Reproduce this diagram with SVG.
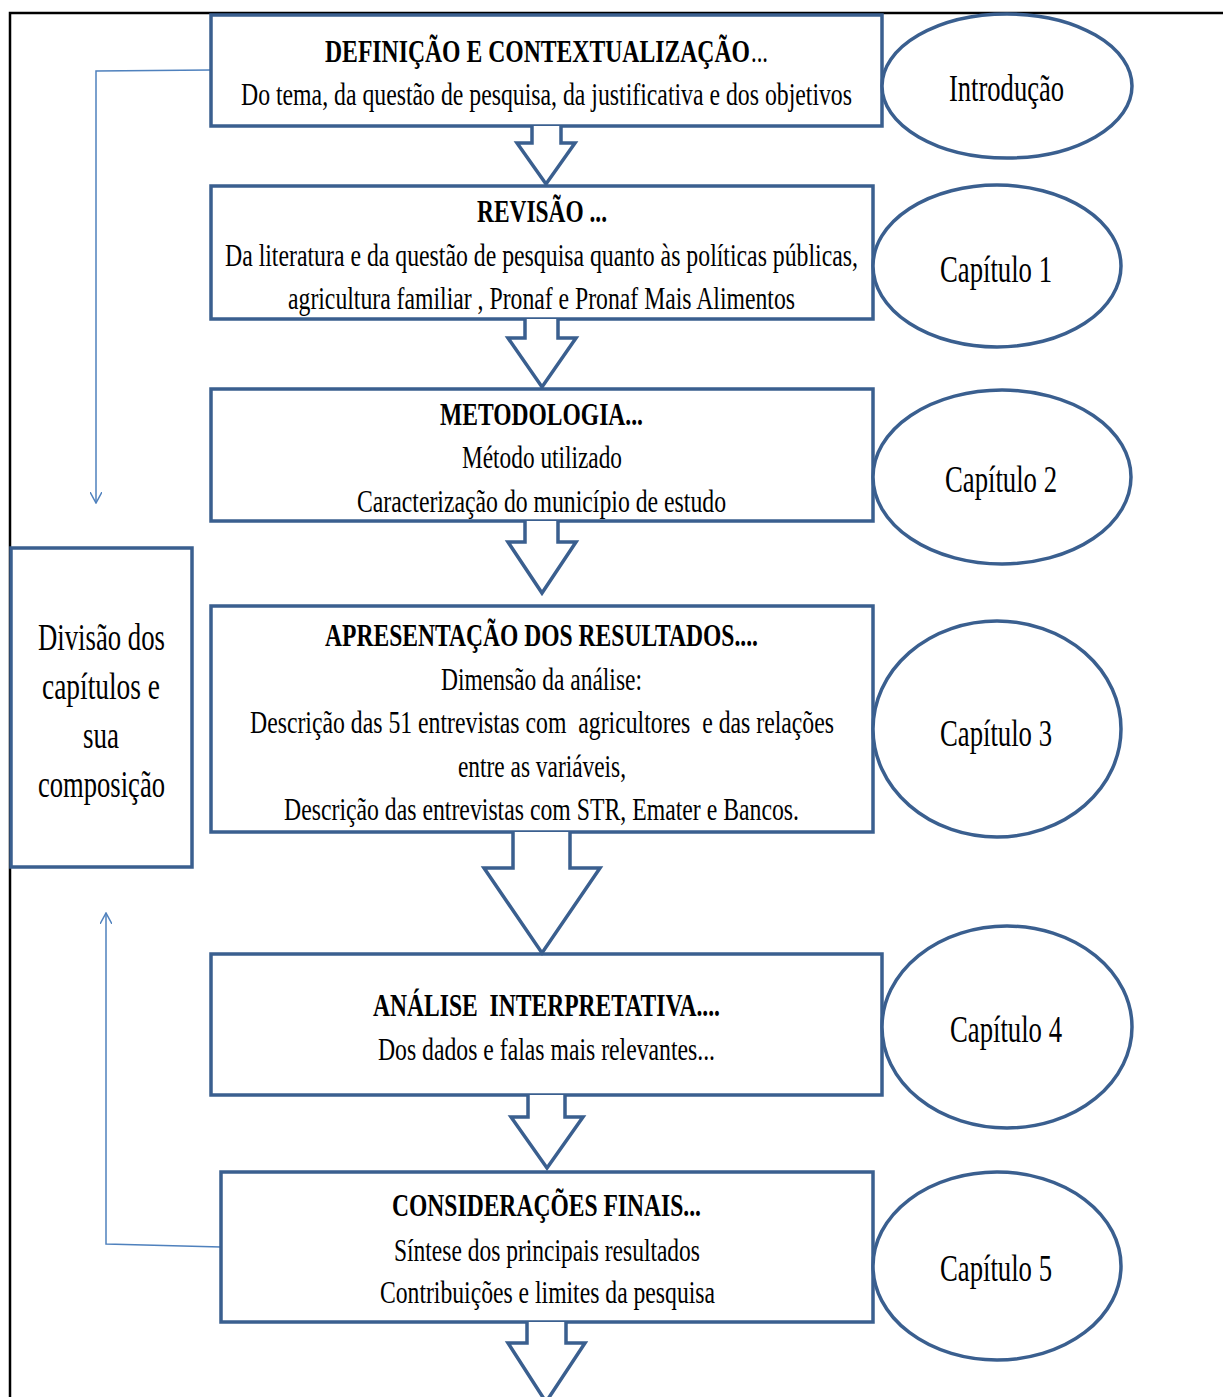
<svg xmlns="http://www.w3.org/2000/svg" width="1223" height="1397" viewBox="0 0 1223 1397">
<defs>
<style>
.box{fill:#fff;stroke:#3A5F8F;stroke-width:3.5}
.arr{fill:#fff;stroke:#3A5F8F;stroke-width:3.5;stroke-linejoin:miter}
.ell{fill:#fff;stroke:#3A5F8F;stroke-width:3.5}
.con{fill:none;stroke:#4F81BD;stroke-width:1.5}
.t{font-size:31px}
.b{font-size:31px;font-weight:bold}
.e{font-size:37px}
</style>
<marker id="ah" viewBox="0 0 12 12" refX="11" refY="6" markerWidth="12" markerHeight="12" markerUnits="userSpaceOnUse" orient="auto">
<path d="M0,0 L11,6 L0,12" fill="none" stroke="#4F81BD" stroke-width="1.5"/>
</marker>
</defs>
<rect width="1223" height="1397" fill="#fff"/>
<path d="M10,1397 V13 H1223" fill="none" stroke="#000" stroke-width="2.5"/>

<g id="connectors">
<path class="con" d="M211,70 L96,71 V503" marker-end="url(#ah)"/>
<path class="con" d="M221,1247 L106,1244 V913" marker-end="url(#ah)"/>
</g>

<g font-family="'Liberation Serif', 'Times New Roman', serif" fill="#000">
<g id="box1">
<rect class="box" x="211" y="15" width="671" height="111"/>
<text class="b" x="325" y="62" textLength="425" lengthAdjust="spacingAndGlyphs">DEFINIÇÃO E CONTEXTUALIZAÇÃO</text>
<text class="t" x="751" y="62" textLength="17" lengthAdjust="spacingAndGlyphs">...</text>
<text class="t" x="241" y="105" textLength="611" lengthAdjust="spacingAndGlyphs">Do tema, da questão de pesquisa, da justificativa e dos objetivos</text>
</g>
<g id="ell0">
<ellipse class="ell" cx="1007" cy="86" rx="125" ry="72"/>
<text class="e" x="949" y="101" textLength="115" lengthAdjust="spacingAndGlyphs">Introdução</text>
</g>

<g id="box2">
<rect class="box" x="211" y="186" width="662" height="133"/>
<text class="b" x="477" y="222" textLength="130" lengthAdjust="spacingAndGlyphs">REVISÃO ...</text>
<text class="t" x="225" y="266" textLength="633" lengthAdjust="spacingAndGlyphs">Da literatura e da questão de pesquisa quanto às políticas públicas,</text>
<text class="t" x="288" y="309" textLength="507" lengthAdjust="spacingAndGlyphs">agricultura familiar , Pronaf e Pronaf Mais Alimentos</text>
</g>
<g id="ell1">
<ellipse class="ell" cx="997" cy="266" rx="124" ry="81"/>
<text class="e" x="940" y="282" textLength="112" lengthAdjust="spacingAndGlyphs">Capítulo 1</text>
</g>

<g id="box3">
<rect class="box" x="211" y="389" width="662" height="132"/>
<text class="b" x="440" y="425" textLength="203" lengthAdjust="spacingAndGlyphs">METODOLOGIA...</text>
<text class="t" x="462" y="468" textLength="160" lengthAdjust="spacingAndGlyphs">Método utilizado</text>
<text class="t" x="357" y="512" textLength="369" lengthAdjust="spacingAndGlyphs">Caracterização do município de estudo</text>
</g>
<g id="ell2">
<ellipse class="ell" cx="1002" cy="477" rx="129" ry="87"/>
<text class="e" x="945" y="492" textLength="112" lengthAdjust="spacingAndGlyphs">Capítulo 2</text>
</g>

<g id="box4">
<rect class="box" x="211" y="606" width="662" height="226"/>
<text class="b" x="325" y="646" textLength="433" lengthAdjust="spacingAndGlyphs">APRESENTAÇÃO DOS RESULTADOS....</text>
<text class="t" x="441" y="690" textLength="201" lengthAdjust="spacingAndGlyphs">Dimensão da análise:</text>
<text class="t" x="250" y="733" textLength="584" lengthAdjust="spacingAndGlyphs" xml:space="preserve">Descrição das 51 entrevistas com  agricultores  e das relações</text>
<text class="t" x="458" y="777" textLength="168" lengthAdjust="spacingAndGlyphs">entre as variáveis,</text>
<text class="t" x="284" y="820" textLength="515" lengthAdjust="spacingAndGlyphs">Descrição das entrevistas com STR, Emater e Bancos.</text>
</g>
<g id="ell3">
<ellipse class="ell" cx="997" cy="729" rx="124" ry="108"/>
<text class="e" x="940" y="746" textLength="112" lengthAdjust="spacingAndGlyphs">Capítulo 3</text>
</g>

<g id="box5">
<rect class="box" x="211" y="954" width="671" height="141"/>
<text class="b" x="373" y="1016" textLength="347" lengthAdjust="spacingAndGlyphs" xml:space="preserve">ANÁLISE  INTERPRETATIVA....</text>
<text class="t" x="378" y="1060" textLength="337" lengthAdjust="spacingAndGlyphs">Dos dados e falas mais relevantes...</text>
</g>
<g id="ell4">
<ellipse class="ell" cx="1007" cy="1027" rx="125" ry="101"/>
<text class="e" x="950" y="1042" textLength="112" lengthAdjust="spacingAndGlyphs">Capítulo 4</text>
</g>

<g id="box6">
<rect class="box" x="221" y="1172" width="652" height="150"/>
<text class="b" x="392" y="1216" textLength="309" lengthAdjust="spacingAndGlyphs">CONSIDERAÇÕES FINAIS...</text>
<text class="t" x="394" y="1261" textLength="306" lengthAdjust="spacingAndGlyphs">Síntese dos principais resultados</text>
<text class="t" x="380" y="1303" textLength="335" lengthAdjust="spacingAndGlyphs">Contribuições e limites da pesquisa</text>
</g>
<g id="ell5">
<ellipse class="ell" cx="997" cy="1266" rx="124" ry="94"/>
<text class="e" x="940" y="1281" textLength="112" lengthAdjust="spacingAndGlyphs">Capítulo 5</text>
</g>

<g id="leftbox">
<rect class="box" x="11" y="548" width="181" height="319"/>
<text class="e" x="38" y="650" textLength="127" lengthAdjust="spacingAndGlyphs">Divisão dos</text>
<text class="e" x="42" y="699" textLength="118" lengthAdjust="spacingAndGlyphs">capítulos e</text>
<text class="e" x="83" y="748" textLength="36" lengthAdjust="spacingAndGlyphs">sua</text>
<text class="e" x="38" y="797" textLength="127" lengthAdjust="spacingAndGlyphs">composição</text>
</g>
</g>

<g id="arrows">
<path class="arr" d="M532,126 V143 H517 L546,184 L575,143 H561 V126"/>
<path class="arr" d="M525,319 V338 H508 L542,387 L576,338 H558 V319"/>
<path class="arr" d="M525,521 V542 H508 L542,593 L576,542 H558 V521"/>
<path class="arr" d="M513,832 V868 H484 L542,953 L600,868 H570 V832"/>
<path class="arr" d="M528,1095 V1117 H511 L547,1168 L583,1117 H565 V1095"/>
<path class="arr" d="M527,1322 V1343 H508 L546,1402 L585,1343 H566 V1322"/>
</g>
</svg>
